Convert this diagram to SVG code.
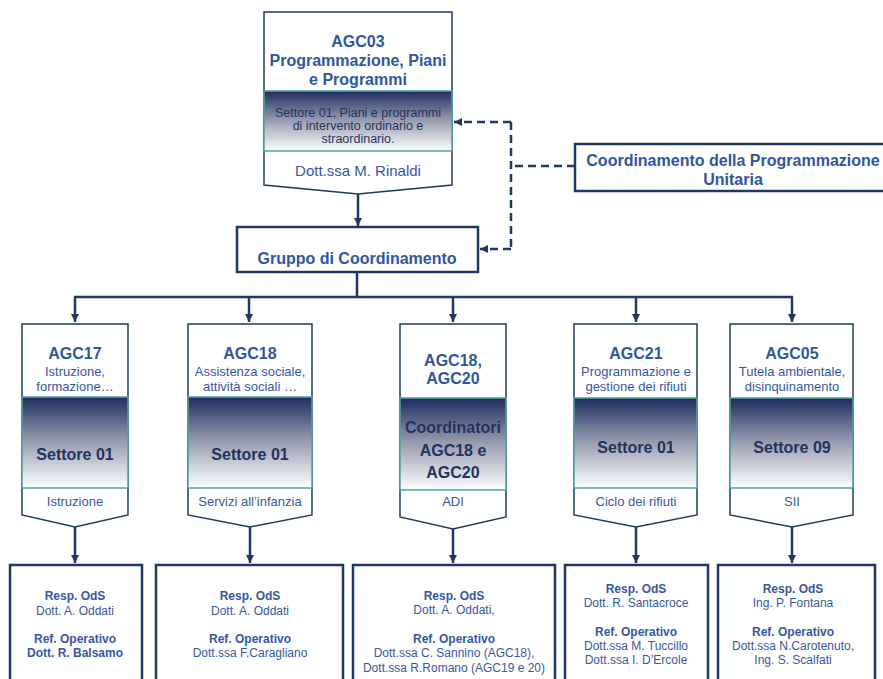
<svg xmlns="http://www.w3.org/2000/svg" width="883" height="679" viewBox="0 0 883 679">
<defs>
<linearGradient id="g" x1="0" y1="0" x2="0" y2="1">
<stop offset="0" stop-color="#1E2C5E"/>
<stop offset="0.45" stop-color="#8F94AA"/>
<stop offset="1" stop-color="#FFFFFF"/>
</linearGradient>
<marker id="ah" markerWidth="10" markerHeight="10" refX="9" refY="5" orient="auto" markerUnits="userSpaceOnUse">
<path d="M1,1 L9,5 L1,9 Z" fill="#1F3864"/>
</marker>
<style>
text{font-family:"Liberation Sans",Arial,sans-serif;text-anchor:middle}
.t{font-size:16px;font-weight:bold;fill:#2F56A6}
.s{font-size:13px;fill:#3557A8}
.d{font-size:16px;font-weight:bold;fill:#1F3460}
.b{font-size:12px;fill:#3557A8}
.bb{font-size:12px;font-weight:bold;fill:#3557A8}
.st{font-size:12.5px;fill:#1F3460}
.frame{fill:#fff;stroke:#1F3864;stroke-width:1.5}
.grad{fill:url(#g);stroke:#4FA3A0;stroke-width:1.5}
.box{fill:#fff;stroke:#1F3864;stroke-width:2.5}
.ln{fill:none;stroke:#1F3864;stroke-width:2.5}
.dash{fill:none;stroke:#1F3864;stroke-width:2.5;stroke-dasharray:8 5}
</style>
</defs>

<g id="connectors">
<path class="ln" d="M358,194 V226" marker-end="url(#ah)"/>
<path class="ln" d="M357,272 V297 M74,297 H793"/>
<path class="ln" d="M75,297 V322" marker-end="url(#ah)"/>
<path class="ln" d="M249,297 V322" marker-end="url(#ah)"/>
<path class="ln" d="M453,297 V322" marker-end="url(#ah)"/>
<path class="ln" d="M636,297 V322" marker-end="url(#ah)"/>
<path class="ln" d="M792,297 V322" marker-end="url(#ah)"/>
<path class="ln" d="M75,527 V563" marker-end="url(#ah)"/>
<path class="ln" d="M250,527 V563" marker-end="url(#ah)"/>
<path class="ln" d="M453,529 V563" marker-end="url(#ah)"/>
<path class="ln" d="M636,527 V563" marker-end="url(#ah)"/>
<path class="ln" d="M792,527 V563" marker-end="url(#ah)"/>
<path class="dash" d="M575,166 H511"/>
<path class="dash" d="M511,122 V249"/>
<path class="dash" d="M511,122 H454" marker-end="url(#ah)"/>
<path class="dash" d="M511,249 H480" marker-end="url(#ah)"/>
</g>

<g id="agc03">
<path class="frame" d="M264,12 H452 V185 L358,194 L264,185 Z"/>
<rect class="grad" x="264" y="91" width="188" height="60"/>
<text class="t" x="358" y="47">AGC03</text>
<text class="t" x="358" y="66">Programmazione, Piani</text>
<text class="t" x="358" y="85">e Programmi</text>
<text class="st" x="358" y="117">Settore 01, Piani e programmi</text>
<text class="st" x="358" y="130">di intervento ordinario e</text>
<text class="st" x="358" y="143">straordinario.</text>
<text x="358" y="176" style="font-size:15px;fill:#3557A8">Dott.ssa M. Rinaldi</text>
</g>

<g id="coord-prog">
<rect class="box" x="575" y="144" width="315" height="47"/>
<text class="t" x="733" y="166">Coordinamento della Programmazione</text>
<text class="t" x="733" y="185">Unitaria</text>
</g>

<g id="gruppo">
<rect class="box" x="237" y="227" width="241" height="45"/>
<text class="t" x="357" y="264">Gruppo di Coordinamento</text>
</g>

<g id="agc17">
<path class="frame" d="M22,324 H128 V515 L75,527 L22,515 Z"/>
<rect class="grad" x="22" y="397" width="106" height="91"/>
<text class="t" x="75" y="359">AGC17</text>
<text class="s" x="75" y="376">Istruzione,</text>
<text class="s" x="75" y="391">formazione…</text>
<text class="d" x="75" y="460">Settore 01</text>
<text class="s" x="75" y="506">Istruzione</text>
</g>

<g id="agc18">
<path class="frame" d="M188,324 H312 V515 L250,527 L188,515 Z"/>
<rect class="grad" x="188" y="397" width="124" height="91"/>
<text class="t" x="250" y="359">AGC18</text>
<text class="s" x="250" y="376">Assistenza sociale,</text>
<text class="s" x="250" y="391">attività sociali …</text>
<text class="d" x="250" y="460">Settore 01</text>
<text class="s" x="250" y="506">Servizi all’infanzia</text>
</g>

<g id="agc18-20">
<path class="frame" d="M400,324 H506 V517 L453,529 L400,517 Z"/>
<rect class="grad" x="400" y="398" width="106" height="92"/>
<text class="t" x="453" y="366">AGC18,</text>
<text class="t" x="453" y="384">AGC20</text>
<text class="d" x="453" y="433">Coordinatori</text>
<text class="d" x="453" y="456">AGC18 e</text>
<text class="d" x="453" y="478">AGC20</text>
<text class="s" x="453" y="506">ADI</text>
</g>

<g id="agc21">
<path class="frame" d="M574,324 H697 V515 L636,527 L574,515 Z"/>
<rect class="grad" x="574" y="398" width="123" height="90"/>
<text class="t" x="636" y="359">AGC21</text>
<text class="s" x="636" y="376">Programmazione e</text>
<text class="s" x="636" y="391">gestione dei rifiuti</text>
<text class="d" x="636" y="453">Settore 01</text>
<text class="s" x="636" y="506">Ciclo dei rifiuti</text>
</g>

<g id="agc05">
<path class="frame" d="M730,324 H853 V515 L792,527 L730,515 Z"/>
<rect class="grad" x="730" y="398" width="123" height="90"/>
<text class="t" x="792" y="359">AGC05</text>
<text class="s" x="792" y="376">Tutela ambientale,</text>
<text class="s" x="792" y="391">disinquinamento</text>
<text class="d" x="792" y="453">Settore 09</text>
<text class="s" x="792" y="506">SII</text>
</g>

<g id="ods1">
<rect class="box" x="10" y="565" width="132" height="130"/>
<text class="bb" x="75" y="600">Resp. OdS</text>
<text class="b" x="75" y="615">Dott. A. Oddati</text>
<text class="bb" x="75" y="643">Ref. Operativo</text>
<text class="bb" x="75" y="657">Dott. R. Balsamo</text>
</g>

<g id="ods2">
<rect class="box" x="156" y="565" width="187" height="130"/>
<text class="bb" x="250" y="600">Resp. OdS</text>
<text class="b" x="250" y="615">Dott. A. Oddati</text>
<text class="bb" x="250" y="643">Ref. Operativo</text>
<text class="b" x="250" y="657">Dott.ssa F.Caragliano</text>
</g>

<g id="ods3">
<rect class="box" x="353" y="565" width="202" height="130"/>
<text class="bb" x="454" y="600">Resp. OdS</text>
<text class="b" x="454" y="614">Dott. A. Oddati,</text>
<text class="bb" x="454" y="643">Ref. Operativo</text>
<text class="b" x="454" y="657">Dott.ssa C. Sannino (AGC18),</text>
<text class="b" x="454" y="672">Dott.ssa R.Romano (AGC19 e 20)</text>
</g>

<g id="ods4">
<rect class="box" x="565" y="565" width="143" height="130"/>
<text class="bb" x="636" y="593">Resp. OdS</text>
<text class="b" x="636" y="607">Dott. R. Santacroce</text>
<text class="bb" x="636" y="636">Ref. Operativo</text>
<text class="b" x="636" y="650">Dott.ssa M. Tuccillo</text>
<text class="b" x="636" y="664">Dott.ssa I. D’Ercole</text>
</g>

<g id="ods5">
<rect class="box" x="718" y="565" width="157" height="130"/>
<text class="bb" x="793" y="593">Resp. OdS</text>
<text class="b" x="793" y="607">Ing. P. Fontana</text>
<text class="bb" x="793" y="636">Ref. Operativo</text>
<text class="b" x="793" y="650">Dott.ssa N.Carotenuto,</text>
<text class="b" x="793" y="664">Ing. S. Scalfati</text>
</g>
</svg>
